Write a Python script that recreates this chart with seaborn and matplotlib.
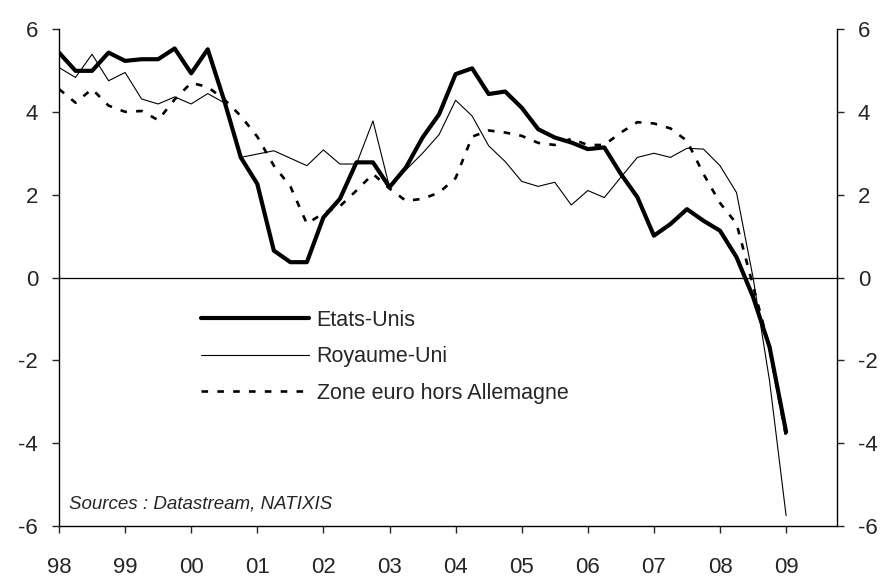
import matplotlib
matplotlib.use('Agg')
import matplotlib.pyplot as plt
import seaborn as sns
import numpy as np
import pandas as pd

# quarterly growth, 98Q1 .. 09Q1
quarters = pd.period_range('1998Q1', '2009Q1', freq='Q')
etats_unis = [5.43, 4.99, 4.99, 5.43,
              5.23, 5.27, 5.27, 5.53,
              4.93, 5.51, 4.27, 2.90,
              2.26, 0.65, 0.37, 0.37,
              1.45, 1.90, 2.78, 2.78,
              2.18, 2.66, 3.38, 3.94,
              4.91, 5.05, 4.43, 4.49,
              4.10, 3.58, 3.38, 3.26,
              3.10, 3.14, 2.50, 1.94,
              1.01, 1.29, 1.65, 1.37,
              1.13, 0.49, -0.47, -1.68,
              -3.73]
royaume_uni = [5.07, 4.83, 5.39, 4.75,
               4.95, 4.31, 4.19, 4.36,
               4.19, 4.44, 4.22, 2.90,
               2.98, 3.06, 2.88, 2.70,
               3.08, 2.74, 2.74, 3.78,
               2.18, 2.60, 3.00, 3.45,
               4.28, 3.90, 3.18, 2.80,
               2.32, 2.20, 2.30, 1.75,
               2.10, 1.93, 2.42, 2.90,
               3.00, 2.90, 3.12, 3.10,
               2.70, 2.05, 0.00, -2.50,
               -5.75]
zone_euro = [4.55, 4.22, 4.55, 4.15,
             4.00, 4.02, 3.80, 4.30,
             4.70, 4.60, 4.30, 3.90,
             3.40, 2.70, 2.20, 1.30,
             1.55, 1.72, 2.10, 2.50,
             2.15, 1.85, 1.90, 2.05,
             2.40, 3.40, 3.55, 3.50,
             3.42, 3.25, 3.20, 3.35,
             3.20, 3.20, 3.50, 3.75,
             3.72, 3.60, 3.30, 2.50,
             1.80, 1.30, -0.20, -1.70,
             -3.85]
year_ticks = list(range(1998, 2010))
year_labels = ['98', '99', '00', '01', '02', '03', '04', '05', '06', '07', '08', '09']
y_ticks = [-6, -4, -2, 0, 2, 4, 6]

df = pd.DataFrame({
    'date': quarters.year + (quarters.quarter - 1) / 4,
    'Etats-Unis': etats_unis,
    'Royaume-Uni': royaume_uni,
    'Zone euro hors Allemagne': zone_euro,
})

sns.set_style('white')
plt.rcParams['font.family'] = ['Liberation Sans', 'DejaVu Sans']
plt.rcParams['axes.unicode_minus'] = False

fig = plt.figure(figsize=(8.86, 5.78), dpi=100)
ax = fig.add_axes([59 / 886, 52 / 578, 778 / 886, 497 / 578])

sns.lineplot(data=df, x='date', y='Etats-Unis', color='black', lw=3.0,
             ax=ax, label='Etats-Unis')
sns.lineplot(data=df, x='date', y='Royaume-Uni', color='black', lw=0.8,
             ax=ax, label='Royaume-Uni')
sns.lineplot(data=df, x='date', y='Zone euro hors Allemagne', color='black', lw=1.9,
             linestyle=(0, (2.5, 3.5)), ax=ax, label='Zone euro hors Allemagne')

ax.axhline(0, color='black', lw=0.9, zorder=1)

ax.set_xlim(1998, 2009.77)
ax.set_ylim(-6, 6)
ax.set_xticks(year_ticks)
ax.set_xticklabels(year_labels)
ax.set_yticks(y_ticks)
ax.set_xlabel('')
ax.set_ylabel('')

for side in ['left', 'right', 'bottom']:
    ax.spines[side].set_visible(True)
    ax.spines[side].set_color('black')
    ax.spines[side].set_linewidth(1.0)
ax.spines['top'].set_visible(False)

ax.tick_params(axis='y', direction='out', length=5, width=1, left=True, right=True,
               labelleft=True, labelright=True, labelsize=16, pad=10)
ax.tick_params(axis='x', direction='out', length=5, width=1, bottom=True,
               labelsize=16, pad=17)

ax.legend(loc='upper left', bbox_to_anchor=(0.172, 0.452), frameon=False,
          handlelength=5.0, fontsize=15.5, labelspacing=0.72, handletextpad=0.35,
          borderaxespad=0)

ax.text(0.013, 0.045, 'Sources : Datastream, NATIXIS', transform=ax.transAxes,
        fontsize=13.5, style='italic', ha='left', va='center')

fig.savefig('out.png', dpi=100)
